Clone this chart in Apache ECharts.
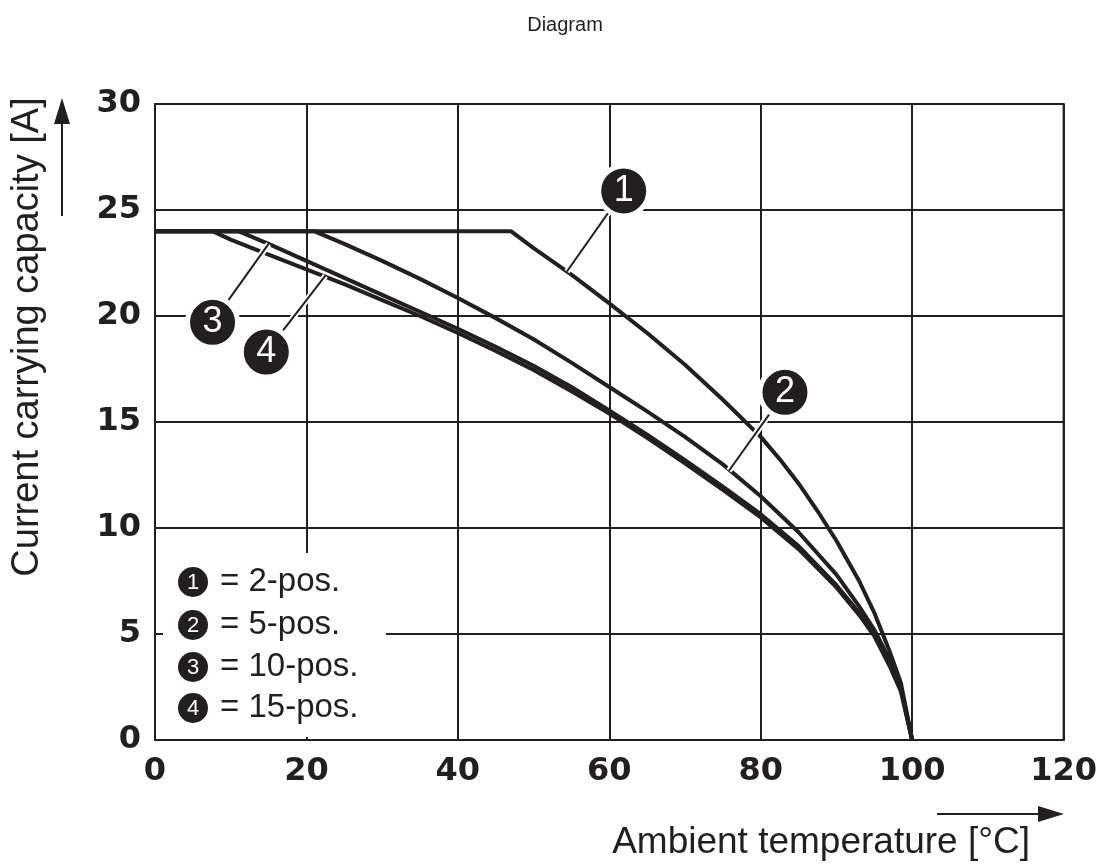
<!DOCTYPE html>
<html>
<head>
<meta charset="utf-8">
<script src="https://cdn.jsdelivr.net/npm/echarts@6/dist/echarts.min.js"></script>
<style>html,body{margin:0;padding:0;background:#fff}#c{width:1100px;height:867px}</style>
</head>
<body>
<div id="c"></div>
<script>
// ---- data ----
const title = 'Diagram';
const xName = 'Ambient temperature [°C]';
const yName = 'Current carrying capacity [A]';
const xTicks = [0, 20, 40, 60, 80, 100, 120];
const yTicks = [0, 5, 10, 15, 20, 25, 30];

const seriesNames = ['2-pos.', '5-pos.', '10-pos.', '15-pos.'];
const temp1 = [0, 47, 50, 55, 60, 65, 70, 75, 80, 82.5, 85, 87.5, 90, 93, 95, 97, 98.5, 100];
const amps1 = [24, 24, 23.2, 21.95, 20.6, 19.2, 17.7, 16.05, 14.3, 13.25, 12.1, 10.8, 9.4, 7.5, 6.0, 4.2, 2.7, 0];
const temp2 = [0, 21, 25, 30, 35, 40, 45, 50, 55, 60, 65, 70, 75, 80, 85, 90, 93, 95, 97, 98.5, 100];
const amps2 = [24, 24, 23.4, 22.6, 21.75, 20.85, 19.9, 18.9, 17.8, 16.65, 15.5, 14.3, 13.0, 11.5, 9.8, 7.8, 6.3, 5.2, 3.8, 2.5, 0];
const temp3 = [0, 11, 15, 20, 25, 30, 35, 40, 45, 50, 55, 60, 65, 70, 75, 80, 85, 90, 93, 95, 97, 98.5, 100];
const amps3 = [24, 24, 23.4, 22.6, 21.8, 21.0, 20.2, 19.4, 18.55, 17.65, 16.65, 15.55, 14.4, 13.2, 11.95, 10.65, 9.15, 7.3, 6.0, 5.0, 3.6, 2.4, 0];
const temp4 = [0, 7.6, 10, 15, 20, 25, 30, 35, 40, 45, 50, 55, 60, 65, 70, 75, 80, 85, 90, 93, 95, 97, 98.5, 100];
const amps4 = [24, 24, 23.6, 22.9, 22.2, 21.5, 20.75, 20.0, 19.2, 18.35, 17.45, 16.45, 15.4, 14.25, 13.05, 11.8, 10.5, 9.0, 7.2, 5.9, 4.9, 3.5, 2.3, 0];

// numbered callouts: circle position and leader target on the curve
const calloutIds = ['1', '2', '3', '4'];
const calloutAt = [[61.9, 25.9], [83.2, 16.4], [7.6, 19.7], [14.7, 18.3]];
const calloutTo = [[54.4, 22.1], [75.8, 12.7], [15, 23.4], [22.5, 21.9]];

// ---- chart ----
const INK = '#231f20';
const FONT = 'Liberation Sans, Arial, sans-serif';
const zip = (xs, ys) => xs.map((x, i) => [x, ys[i]]);
const curves = [zip(temp1, amps1), zip(temp2, amps2), zip(temp3, amps3), zip(temp4, amps4)];

const grid = { left: 155, right: 30, top: 104, bottom: 127 };
const series = [];
curves.forEach((d, i) => {
  series.push({
    type: 'line', name: seriesNames[i], data: d, showSymbol: false, symbol: 'none',
    smooth: false,
    lineStyle: { color: INK, width: 4, join: 'round' }, z: 3, animation: false
  });
});
calloutIds.forEach((id, i) => {
  series.push({
    type: 'line', data: [calloutAt[i], calloutTo[i]], showSymbol: false, symbol: 'none',
    lineStyle: { color: '#fff', width: 6 }, z: 4, animation: false
  });
  series.push({
    type: 'line', data: [calloutAt[i], calloutTo[i]], showSymbol: false, symbol: 'none',
    lineStyle: { color: INK, width: 2 }, z: 5, animation: false
  });
});
series.push({
  type: 'scatter', z: 6, animation: false,
  data: calloutAt.map((p, i) => ({ value: p, name: calloutIds[i] })),
  symbol: 'circle', symbolSize: 50,
  itemStyle: { color: INK, opacity: 1, borderColor: '#fff', borderWidth: 5 },
  emphasis: { disabled: true },
  label: { show: true, position: 'inside', formatter: p => p.name, color: '#fff',
           fontSize: 36, fontFamily: FONT }
});

const legendRows = [582, 625, 667, 708];
const graphics = [
  { type: 'text', x: 565, y: 25, z: 10,
    style: { text: title, fontSize: 20, fontFamily: FONT, fill: INK, textAlign: 'center', textVerticalAlign: 'middle' } },
  { type: 'text', x: 28, y: 337, rotation: Math.PI / 2, z: 10,
    style: { text: yName, fontSize: 38, fontFamily: FONT, fill: INK, textAlign: 'center', textVerticalAlign: 'middle' } },
  { type: 'text', x: 1030, y: 843, z: 10,
    style: { text: xName, fontSize: 37, fontFamily: FONT, fill: INK, textAlign: 'right', textVerticalAlign: 'middle' } },
  { type: 'line', z: 10, shape: { x1: 62, y1: 216, x2: 62, y2: 118 }, style: { stroke: INK, lineWidth: 2 } },
  { type: 'polygon', z: 10, shape: { points: [[62, 98], [54, 124], [70, 124]] }, style: { fill: INK } },
  { type: 'line', z: 10, shape: { x1: 937, y1: 814, x2: 1042, y2: 814 }, style: { stroke: INK, lineWidth: 2 } },
  { type: 'polygon', z: 10, shape: { points: [[1064, 814], [1038, 806], [1038, 822]] }, style: { fill: INK } },
  { type: 'rect', z: 1, shape: { x: 163, y: 553, width: 223, height: 184 }, style: { fill: '#fff' } }
];
seriesNames.forEach((nm, i) => {
  graphics.push({ type: 'circle', z: 10, shape: { cx: 193, cy: legendRows[i], r: 15 }, style: { fill: INK } });
  graphics.push({ type: 'text', x: 193, y: legendRows[i] + 1, z: 11,
    style: { text: calloutIds[i], fontSize: 22, fontFamily: FONT, fill: '#fff', textAlign: 'center', textVerticalAlign: 'middle' } });
  graphics.push({ type: 'text', x: 220, y: legendRows[i], z: 10,
    style: { text: '= ' + nm, fontSize: 33, fontFamily: FONT, fill: INK, textAlign: 'left', textVerticalAlign: 'middle' } });
});

const chart = echarts.init(document.getElementById('c'), null, { renderer: 'canvas' });
chart.setOption({
  animation: false,
  backgroundColor: '#fff',
  grid: Object.assign({ show: true, borderColor: INK, borderWidth: 2, containLabel: false }, grid),
  xAxis: {
    type: 'value', min: xTicks[0], max: xTicks[xTicks.length - 1], interval: xTicks[1] - xTicks[0],
    axisLine: { show: true, lineStyle: { color: INK, width: 2 } },
    axisTick: { show: true, inside: true, length: 6, lineStyle: { color: INK, width: 2 } },
    splitLine: { show: true, lineStyle: { color: INK, width: 2 } },
    axisLabel: { color: INK, fontSize: 32, fontWeight: 'bold', fontFamily: 'DejaVu Sans', margin: 16 }
  },
  yAxis: {
    type: 'value', min: yTicks[0], max: yTicks[yTicks.length - 1], interval: yTicks[1] - yTicks[0],
    axisLine: { show: true, lineStyle: { color: INK, width: 2 } },
    axisTick: { show: true, inside: true, length: 6, lineStyle: { color: INK, width: 2 } },
    splitLine: { show: true, lineStyle: { color: INK, width: 2 } },
    axisLabel: { color: INK, fontSize: 32, fontWeight: 'bold', fontFamily: 'DejaVu Sans', margin: 14 }
  },
  graphic: graphics,
  series: series
});
</script>
</body>
</html>
